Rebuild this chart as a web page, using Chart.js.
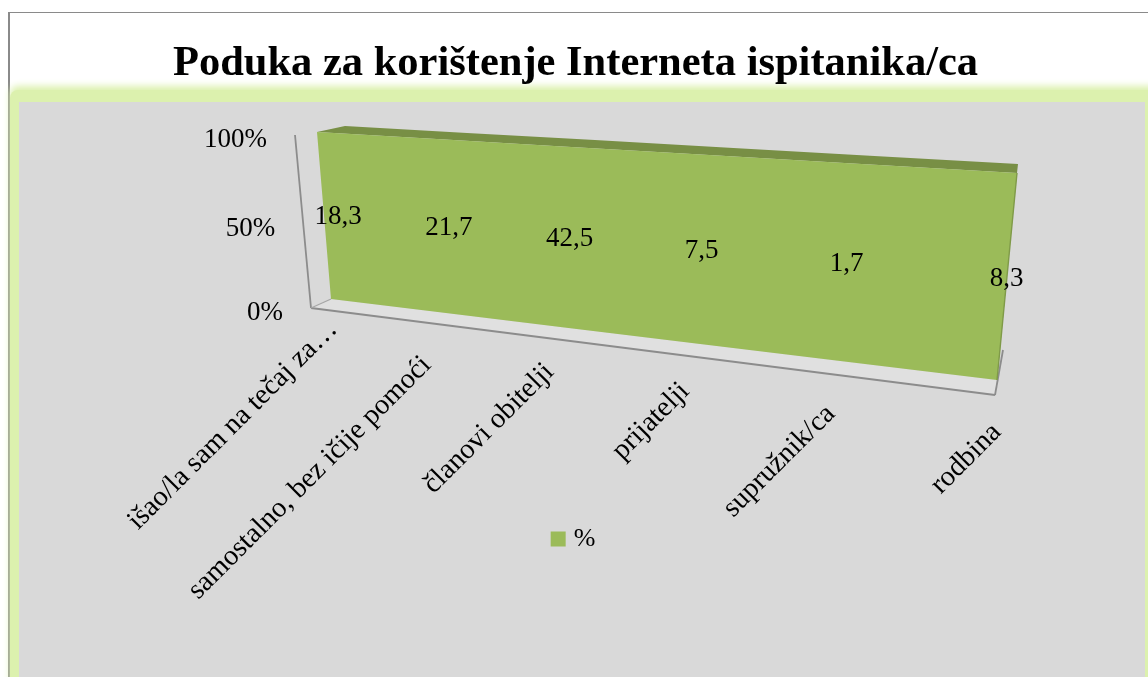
<!DOCTYPE html>
<html>
<head>
<meta charset="utf-8">
<title>Poduka za korištenje Interneta</title>
<script src="https://cdn.jsdelivr.net/npm/chart.js@4"></script>
<style>
    html, body { margin: 0; padding: 0; background: #fff; overflow: hidden; }
    #page { position: relative; width: 1148px; height: 677px; overflow: hidden; }
    #frame { position: absolute; left: 8px; top: 12px; width: 1200px; height: 800px; border-left: 2px solid #8a8a8a; border-top: 1px solid #8a8a8a; }
    #glow { position: absolute; left: 10px; top: 90px; width: 1200px; height: 700px; background: #dcf1ae; border-radius: 8px 0 0 0; box-shadow: 0 -4px 7px #dcf1ae; }
    #plot { position: absolute; left: 19px; top: 102px; width: 1126px; height: 600px; background: #d9d9d9; }
    canvas { position: absolute; left: 0; top: 0; }
</style>
</head>
<body>
<div id="page">
    <div id="frame"></div>
    <div id="glow"></div>
    <div id="plot"></div>
    <canvas id="areaChart" width="1148" height="677"></canvas>
</div>
<script>
// Chart data
const categories = ['išao/la sam na tečaj za…', 'samostalno, bez ičije pomoći', 'članovi obitelji', 'prijatelji', 'supružnik/ca', 'rodbina'];
const percentValues = [18.3, 21.7, 42.5, 7.5, 1.7, 8.3];
const tickValues = [0, 50, 100];

// One series in a 100% stacked area, so every category reaches the full height
const stackedValues = percentValues.map(v => v / v * 100);
const baseValues = percentValues.map(() => 0);

const SERIF = "'Liberation Serif', serif";

// Perspective planes of the 3D look, corners are bottom-left, bottom-right, top-right, top-left
const axisPlane = makePlane([311, 308], [995, 395], [1015, 188], [295, 135]);
const facePlane = makePlane([331, 299], [997, 380], [1017, 173], [317, 132]);
const backPlane = makePlane([357, 293], [1003, 350], [1018, 164], [345, 126]);
const labelPlane = makePlane([345, 299], [997, 379], [1017, 172], [331, 132]);

// Where each rotated category label ends, relative to its spot on the floor line
const categoryNudge = [[22, 17], [-1, 38], [-4, 29], [-4, 31], [-5, 35], [2, 33]];

function makePlane(p0, p1, p2, p3) {
    const dx1 = p1[0] - p2[0], dx2 = p3[0] - p2[0], sx = p0[0] - p1[0] + p2[0] - p3[0];
    const dy1 = p1[1] - p2[1], dy2 = p3[1] - p2[1], sy = p0[1] - p1[1] + p2[1] - p3[1];
    const den = dx1 * dy2 - dx2 * dy1;
    const g = (sx * dy2 - dx2 * sy) / den;
    const h = (dx1 * sy - sx * dy1) / den;
    return {
        a: p1[0] - p0[0] + g * p1[0], b: p3[0] - p0[0] + h * p3[0], c: p0[0],
        d: p1[1] - p0[1] + g * p1[1], e: p3[1] - p0[1] + h * p3[1], f: p0[1],
        g: g, h: h
    };
}

function project(plane, u, v) {
    const w = plane.g * u + plane.h * v + 1;
    return {
        x: (plane.a * u + plane.b * v + plane.c) / w,
        y: (plane.d * u + plane.e * v + plane.f) / w
    };
}

// Turn a category index and a value into the plane position, through the chart scales
function toPlane(chart, plane, index, value) {
    const xs = chart.scales.x, ys = chart.scales.y;
    const u = (xs.getPixelForValue(index) - xs.left) / xs.width;
    const v = (ys.bottom - ys.getPixelForValue(value)) / ys.height;
    return project(plane, u, v);
}

function fillBand(ctx, upper, lower, color) {
    ctx.beginPath();
    upper.forEach((pt, i) => i ? ctx.lineTo(pt.x, pt.y) : ctx.moveTo(pt.x, pt.y));
    lower.slice().reverse().forEach(pt => ctx.lineTo(pt.x, pt.y));
    ctx.closePath();
    ctx.fillStyle = color;
    ctx.fill();
}

function strokeLine(ctx, a, b, color, width) {
    ctx.beginPath();
    ctx.moveTo(a.x, a.y);
    ctx.lineTo(b.x, b.y);
    ctx.strokeStyle = color;
    ctx.lineWidth = width;
    ctx.stroke();
}

const perspectivePlugin = {
    id: 'perspective',
    afterDatasetsUpdate(chart) {
        chart.data.datasets.forEach((ds, d) => {
            chart.getDatasetMeta(d).data.forEach((pt, i) => {
                const p = toPlane(chart, ds.plane, i, ds.data[i]);
                pt.x = p.x;
                pt.y = p.y;
            });
        });
    },
    beforeDatasetsDraw(chart) {
        const ctx = chart.ctx;
        const last = categories.length - 1;
        const faceTop = chart.getDatasetMeta(0).data;
        const faceBase = chart.getDatasetMeta(1).data;
        const backTop = chart.getDatasetMeta(2).data;
        const axisBase = categories.map((c, i) => toPlane(chart, axisPlane, i, 0));

        ctx.save();
        // floor and walls
        fillBand(ctx, axisBase, faceBase, '#e0e0e0');
        strokeLine(ctx, toPlane(chart, axisPlane, 0, 100), axisBase[0], '#8c8c8c', 1.8);
        strokeLine(ctx, axisBase[0], axisBase[last], '#8c8c8c', 1.8);
        strokeLine(ctx, axisBase[0], faceBase[0], '#a6a6a6', 1.2);
        strokeLine(ctx, axisBase[last], toPlane(chart, backPlane, last, 0), '#8c8c8c', 1.8);
        // area, top side first
        fillBand(ctx, backTop, faceTop, '#788f45');
        fillBand(ctx, faceTop, faceBase, chart.data.datasets[0].backgroundColor);
        strokeLine(ctx, faceTop[last], faceBase[last], '#7f9a48', 1.4);
        ctx.restore();
    },
    afterDatasetsDraw(chart) {
        const ctx = chart.ctx;
        ctx.save();
        ctx.fillStyle = '#000';
        ctx.font = '27px ' + SERIF;

        // y axis ticks follow the slanted axis line
        ctx.textAlign = 'right';
        ctx.textBaseline = 'middle';
        tickValues.forEach(value => {
            const p = toPlane(chart, axisPlane, 0, value);
            ctx.fillText(value + '%', p.x - 28, p.y + 5);
        });

        // data labels at mid height of the area
        ctx.textAlign = 'center';
        percentValues.forEach((value, i) => {
            const p = toPlane(chart, labelPlane, i, 50);
            ctx.fillText(String(value).replace('.', ','), p.x, p.y);
        });

        // category labels, rotated and ending under the floor line
        ctx.font = '28.5px ' + SERIF;
        ctx.textAlign = 'right';
        categories.forEach((label, i) => {
            const p = toPlane(chart, axisPlane, i, 0);
            ctx.save();
            ctx.translate(p.x + categoryNudge[i][0], p.y + categoryNudge[i][1]);
            ctx.rotate(-Math.PI / 4);
            ctx.fillText(label, 0, 0);
            ctx.restore();
        });
        ctx.restore();
    }
};

new Chart(document.getElementById('areaChart'), {
    type: 'line',
    data: {
        labels: categories,
        datasets: [
            // the thick border only sizes the legend swatch, the line itself is hidden
            { label: '%', data: stackedValues, plane: facePlane, backgroundColor: '#9BBB59', borderColor: '#9BBB59', borderWidth: 10, showLine: false, pointRadius: 0, fill: false, clip: false },
            { label: 'base', data: baseValues, plane: facePlane, showLine: false, pointRadius: 0, fill: false, clip: false },
            { label: 'back', data: stackedValues, plane: backPlane, showLine: false, pointRadius: 0, fill: false, clip: false }
        ]
    },
    options: {
        responsive: false,
        animation: false,
        events: [],
        layout: { padding: { left: 3, top: 39, bottom: 115 } },
        scales: {
            x: {
                offset: false,
                grid: { display: false },
                border: { display: false },
                ticks: { display: false },
                afterFit(scale) { scale.height = 200; }
            },
            y: {
                min: 0,
                max: 100,
                grid: { display: false },
                border: { display: false },
                ticks: { display: false, stepSize: 50 }
            }
        },
        plugins: {
            title: {
                display: true,
                text: 'Poduka za korištenje Interneta ispitanika/ca',
                color: '#000',
                font: { family: SERIF, size: 42.5, weight: 'bold' },
                padding: { top: 0, bottom: 10 }
            },
            legend: {
                position: 'bottom',
                labels: {
                    color: '#000',
                    boxWidth: 5,
                    boxHeight: 5,
                    padding: 8,
                    font: { family: SERIF, size: 26 },
                    filter: item => item.text === '%'
                }
            },
            tooltip: { enabled: false }
        }
    },
    plugins: [perspectivePlugin]
});
</script>
</body>
</html>
